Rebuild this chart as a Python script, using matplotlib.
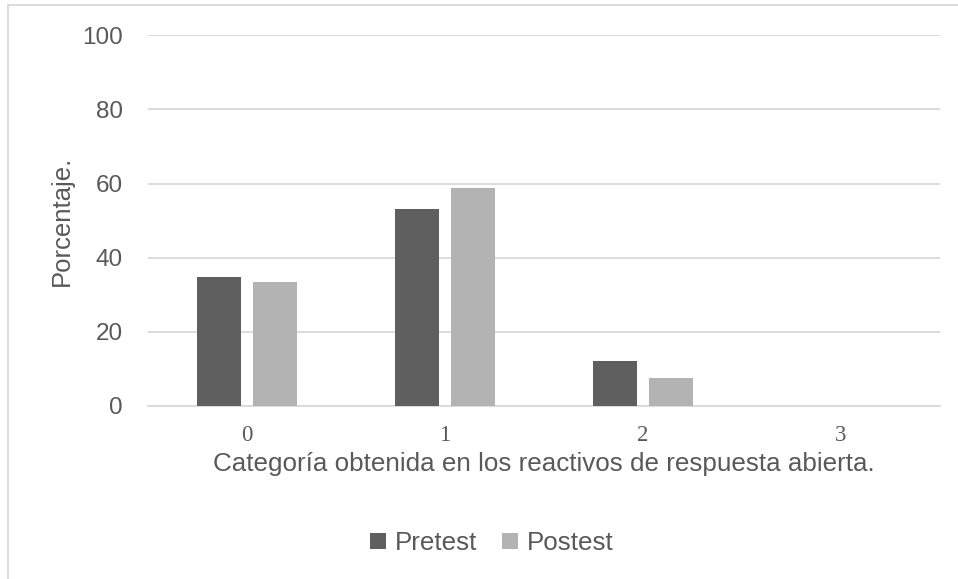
import numpy as np
import matplotlib.pyplot as plt
from matplotlib.patches import Rectangle

categorias = ['0', '1', '2', '3']
pretest = [34.7, 53.1, 12.1, 0]
postest = [33.4, 58.8, 7.6, 0]

gris_txt = '#595959'

fig = plt.figure(figsize=(9.58, 5.79), dpi=100)
ax = fig.add_axes([148/958, 1-406/579, 792/958, (406-35.2)/579])

x = np.arange(len(categorias))
ancho = 0.227
sep = 0.056
ax.bar(x - (ancho+sep)/2, pretest, ancho, color='#5f5f5f', label='Pretest', zorder=3)
ax.bar(x + (ancho+sep)/2, postest, ancho, color='#b3b3b3', label='Postest', zorder=3)

ax.set_xlim(-0.5, 3.5)
ax.set_ylim(0, 100)
ax.set_yticks(range(0, 101, 20))
ax.yaxis.grid(True, color='#d9d9d9', linewidth=1.3, zorder=0)
for s in ['top', 'right', 'left']:
    ax.spines[s].set_visible(False)
ax.spines['bottom'].set_color('#d9d9d9')
ax.spines['bottom'].set_linewidth(1.3)
ax.tick_params(length=0)
ax.tick_params(axis='y', labelsize=17.5, labelcolor=gris_txt, pad=18)
ax.set_xticks(x)
ax.set_xticklabels(categorias, fontfamily='Liberation Serif', fontsize=16.5, color=gris_txt)
ax.tick_params(axis='x', pad=14)
for t in ax.get_yticklabels():
    t.set_fontfamily('Liberation Sans')

ax.set_ylabel('Porcentaje.', fontfamily='Liberation Sans', fontsize=18.5, color=gris_txt, labelpad=6)
ax.set_xlabel('Categoría obtenida en los reactivos de respuesta abierta.',
              fontfamily='Liberation Sans', fontsize=18.7, color=gris_txt, labelpad=4)

leg = fig.legend(loc='center', bbox_to_anchor=(492/958, 1-543/579), ncol=2, frameon=False,
                 prop={'family': 'Liberation Sans', 'size': 18.7}, handlelength=0.6, handleheight=0.6,
                 handletextpad=0.35, columnspacing=0.95)
for t in leg.get_texts():
    t.set_color(gris_txt)

# borde del area del grafico
fig.patches.append(Rectangle((8/958, -0.1), 1.2, 1 - 5/579 + 0.1, transform=fig.transFigure,
                             fill=False, edgecolor='#d9d9d9', linewidth=1.3))

fig.savefig('out.png', dpi=100)
